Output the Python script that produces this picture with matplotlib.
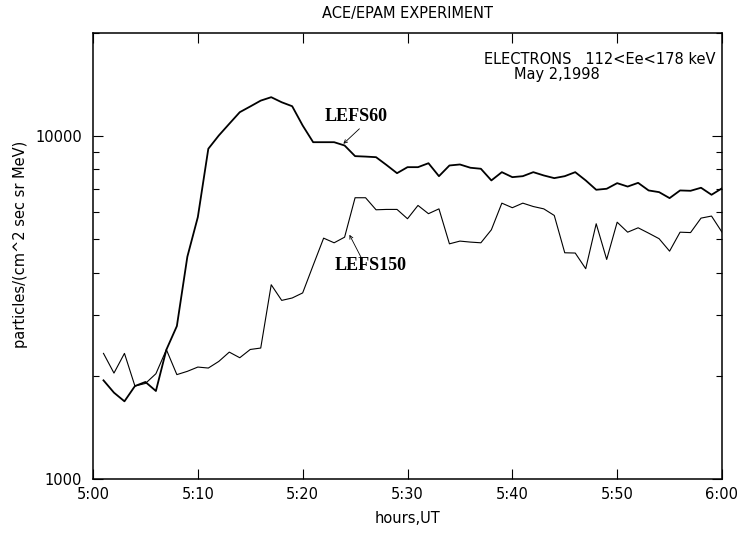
import matplotlib
matplotlib.use("Agg")
import matplotlib.pyplot as plt
from matplotlib.ticker import FixedLocator, LogLocator, NullFormatter, FixedFormatter

# ---- data (minutes after 5:00 UT) ----
minutes = list(range(1, 61))
lefs60 = [1940, 1786, 1685, 1867, 1919, 1806, 2384, 2793, 4450, 5808,
          9190, 10047, 10870, 11750, 12210, 12700, 12995, 12560, 12230, 10745,
          9605, 9605, 9605, 9394, 8746, 8720, 8685, 8240, 7800, 8122,
          8122, 8340, 7645, 8214, 8270, 8090, 8035, 7430, 7854, 7595,
          7645, 7854, 7682, 7545, 7645, 7854, 7430, 6978, 7025, 7295,
          7130, 7310, 6946, 6868, 6597, 6946, 6930, 7073, 6747, 7047]
lefs150 = [2325, 2037, 2325, 1867, 1900, 2028, 2384, 2016, 2061, 2121,
           2107, 2203, 2345, 2258, 2387, 2410, 3687, 3319, 3373, 3490,
           4200, 5042, 4887, 5075, 6614, 6614, 6100, 6115, 6115, 5744,
           6281, 5942, 6138, 4853, 4943, 4910, 4887, 5333, 6378, 6186,
           6378, 6235, 6138, 5872, 4570, 4562, 4106, 5554, 4370, 5612,
           5248, 5405, 5214, 5023, 4620, 5248, 5234, 5768, 5848, 5248]
xtick_pos = [0, 10, 20, 30, 40, 50, 60]
xtick_labels = ["5:00", "5:10", "5:20", "5:30", "5:40", "5:50", "6:00"]

plt.rcParams['font.family'] = ['DejaVu Sans']

fig = plt.figure(figsize=(7.41, 5.37), dpi=100)
ax = fig.add_axes([93/741, (537-479)/537, (722-93)/741, (479-33)/537])

ax.plot(minutes, lefs60, color='black', lw=1.3)
ax.plot(minutes, lefs150, color='black', lw=0.8)

ax.set_yscale('log')
ax.set_xlim(0, 60)
ax.set_ylim(1000, 20000)

ax.xaxis.set_major_locator(FixedLocator(xtick_pos))
ax.xaxis.set_major_formatter(FixedFormatter(xtick_labels))
ax.yaxis.set_major_locator(FixedLocator([1000, 10000]))
ax.yaxis.set_major_formatter(FixedFormatter(["1000", "10000"]))
ax.yaxis.set_minor_locator(LogLocator(base=10, subs=range(2, 10)))
ax.yaxis.set_minor_formatter(NullFormatter())

ax.tick_params(axis='both', which='major', direction='in', top=True, right=True,
               length=7, width=0.8, labelsize=10.5, colors='black')
ax.tick_params(axis='x', which='major', pad=6)
ax.tick_params(axis='y', which='major', pad=8)
ax.tick_params(axis='y', which='minor', direction='in', right=True, left=True,
               length=4.5, width=0.8)
for s in ax.spines.values():
    s.set_linewidth(1.1)

ax.set_title("ACE/EPAM EXPERIMENT", fontsize=10.5, pad=11)
ax.set_xlabel("hours,UT", fontsize=10.5, labelpad=6)
ax.set_ylabel("particles/(cm^2 sec sr MeV)", fontsize=10.5)
ax.yaxis.set_label_coords(-0.104, 0.525)

ax.text(0.99, 0.9417, "ELECTRONS   112<Ee<178 keV", transform=ax.transAxes,
        ha='right', va='center', fontsize=10.5)
ax.text(0.7377, 0.908, "May 2,1998", transform=ax.transAxes,
        ha='center', va='center', fontsize=10.5)

# labels and their pointer arrows
ax.text(25.1, 11414, "LEFS60", fontsize=13, fontweight='bold',
        family='Liberation Serif', ha='center', va='center')
ax.annotate("", xy=(23.88, 9503), xytext=(25.41, 10510),
            arrowprops=dict(arrowstyle='->', lw=0.6, color='black',
                            shrinkA=0, shrinkB=0, mutation_scale=6))
ax.text(26.53, 4198, "LEFS150", fontsize=13, fontweight='bold',
        family='Liberation Serif', ha='center', va='center')
ax.annotate("", xy=(24.46, 5158), xytext=(25.64, 4391),
            arrowprops=dict(arrowstyle='->', lw=0.6, color='black',
                            shrinkA=0, shrinkB=0, mutation_scale=6))

fig.savefig("out.png", dpi=100)
